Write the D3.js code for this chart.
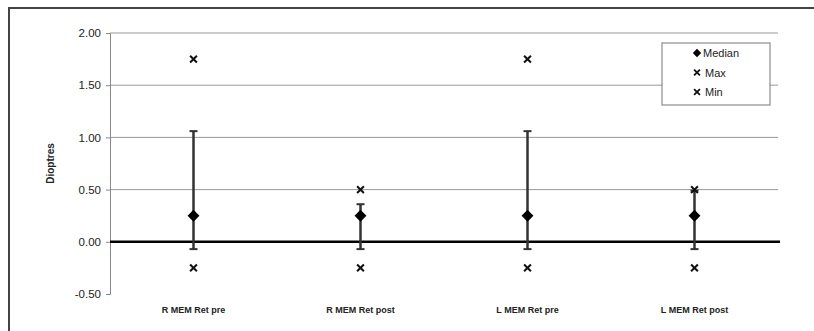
<!DOCTYPE html>
<html>
<head>
<meta charset="utf-8">
<script src="https://cdn.jsdelivr.net/npm/d3@7"></script>
<style>
  body { margin: 0; background: #fff; }
  text { font-family: "Liberation Sans", Arial, sans-serif; }
</style>
</head>
<body>
<script>
var categories = ["R MEM Ret pre", "R MEM Ret post", "L MEM Ret pre", "L MEM Ret post"];
var medianValues = [0.25, 0.25, 0.25, 0.25];
var maxValues = [1.75, 0.5, 1.75, 0.5];
var minValues = [-0.25, -0.25, -0.25, -0.25];
var errUpper = [1.06, 0.36, 1.06, 0.49];
var errLower = [-0.07, -0.07, -0.07, -0.07];
var yTicks = [-0.5, 0, 0.5, 1, 1.5, 2];
var legendLabels = ["Median", "Max", "Min"];

var svg = d3.select("body").append("svg")
    .attr("width", 814)
    .attr("height", 331);

// outer frame
svg.append("rect")
    .attr("x", 9).attr("y", 8)
    .attr("width", 820).attr("height", 340)
    .attr("fill", "none")
    .attr("stroke", "#444")
    .attr("stroke-width", 2);

var x = d3.scaleBand().domain(categories).range([110, 778]);
var y = d3.scaleLinear().domain([-0.5, 2]).range([294, 33]);

// gridlines
svg.selectAll("line.grid")
    .data(yTicks.filter(function (d) { return d > 0; }))
    .enter().append("line")
    .attr("class", "grid")
    .attr("x1", 110).attr("x2", 778)
    .attr("y1", function (d) { return y(d); })
    .attr("y2", function (d) { return y(d); })
    .attr("stroke", "#999")
    .attr("stroke-width", 1);

// y axis
var yAxis = svg.append("g")
    .attr("transform", "translate(110,0)")
    .call(d3.axisLeft(y).tickValues(yTicks)
      .tickFormat(function (d) { return d.toFixed(2); })
      .tickSize(4).tickPadding(5));
yAxis.select(".domain").attr("stroke", "#888");
yAxis.selectAll(".tick line").attr("stroke", "#888");
yAxis.selectAll("text").attr("font-size", 11.5).attr("fill", "#222");

// zero line
svg.append("line")
    .attr("x1", 110).attr("x2", 780)
    .attr("y1", y(0)).attr("y2", y(0))
    .attr("stroke", "#000")
    .attr("stroke-width", 2.5);

svg.append("text")
    .attr("transform", "translate(54," + ((y(2) + y(-0.5)) / 2) + ") rotate(-90)")
    .attr("text-anchor", "middle")
    .attr("font-size", 10)
    .attr("font-weight", "bold")
    .attr("fill", "#222")
    .text("Dioptres");

// category labels
svg.selectAll("text.cat")
    .data(categories)
    .enter().append("text")
    .attr("class", "cat")
    .attr("x", function (d) { return x(d) + x.bandwidth() / 2; })
    .attr("y", 313)
    .attr("text-anchor", "middle")
    .attr("font-size", 9)
    .attr("font-weight", "bold")
    .attr("fill", "#222")
    .text(function (d) { return d; });

var cx = function (d, i) { return x(categories[i]) + x.bandwidth() / 2; };

// error bars
svg.selectAll("line.err")
    .data(errUpper)
    .enter().append("line")
    .attr("class", "err")
    .attr("x1", cx).attr("x2", cx)
    .attr("y1", function (d) { return y(d); })
    .attr("y2", function (d, i) { return y(errLower[i]); })
    .attr("stroke", "#333")
    .attr("stroke-width", 2.5);

[errUpper, errLower].forEach(function (arr, k) {
  svg.selectAll("line.cap" + k)
      .data(arr)
      .enter().append("line")
      .attr("class", "cap" + k)
      .attr("x1", function (d, i) { return cx(d, i) - 4; })
      .attr("x2", function (d, i) { return cx(d, i) + 4; })
      .attr("y1", function (d) { return y(d); })
      .attr("y2", function (d) { return y(d); })
      .attr("stroke", "#333")
      .attr("stroke-width", 2);
});

// median diamonds
var diamond = d3.symbol().type(d3.symbolDiamond2).size(90);
svg.selectAll("path.median")
    .data(medianValues)
    .enter().append("path")
    .attr("class", "median")
    .attr("d", diamond)
    .attr("transform", function (d, i) { return "translate(" + cx(d, i) + "," + y(d) + ")"; })
    .attr("fill", "#000");

// max / min crosses
var cross = d3.symbol().type(d3.symbolX).size(32);
[maxValues, minValues].forEach(function (arr, k) {
  svg.selectAll("path.x" + k)
      .data(arr)
      .enter().append("path")
      .attr("class", "x" + k)
      .attr("d", cross)
      .attr("transform", function (d, i) { return "translate(" + cx(d, i) + "," + y(d) + ")"; })
      .attr("fill", "none")
      .attr("stroke", "#111")
      .attr("stroke-width", 2);
});

// legend
var lg = svg.append("g");
lg.append("rect")
    .attr("x", 662).attr("y", 43)
    .attr("width", 108).attr("height", 62)
    .attr("fill", "#fff")
    .attr("stroke", "#777")
    .attr("stroke-width", 1);

var items = lg.selectAll("g.item")
    .data(legendLabels)
    .enter().append("g")
    .attr("class", "item")
    .attr("transform", function (d, i) { return "translate(697," + (53 + i * 19.5) + ")"; });

items.append("path")
    .attr("d", function (d, i) {
      return i === 0 ? d3.symbol().type(d3.symbolDiamond2).size(45)() : d3.symbol().type(d3.symbolX).size(24)();
    })
    .attr("fill", function (d, i) { return i === 0 ? "#000" : "none"; })
    .attr("stroke", function (d, i) { return i === 0 ? null : "#111"; })
    .attr("stroke-width", 1.8);

items.append("text")
    .attr("x", function (d, i) { return i === 0 ? 6 : 8; })
    .attr("y", 4)
    .attr("font-size", 11)
    .attr("fill", "#222")
    .text(function (d) { return d; });
</script>
</body>
</html>
